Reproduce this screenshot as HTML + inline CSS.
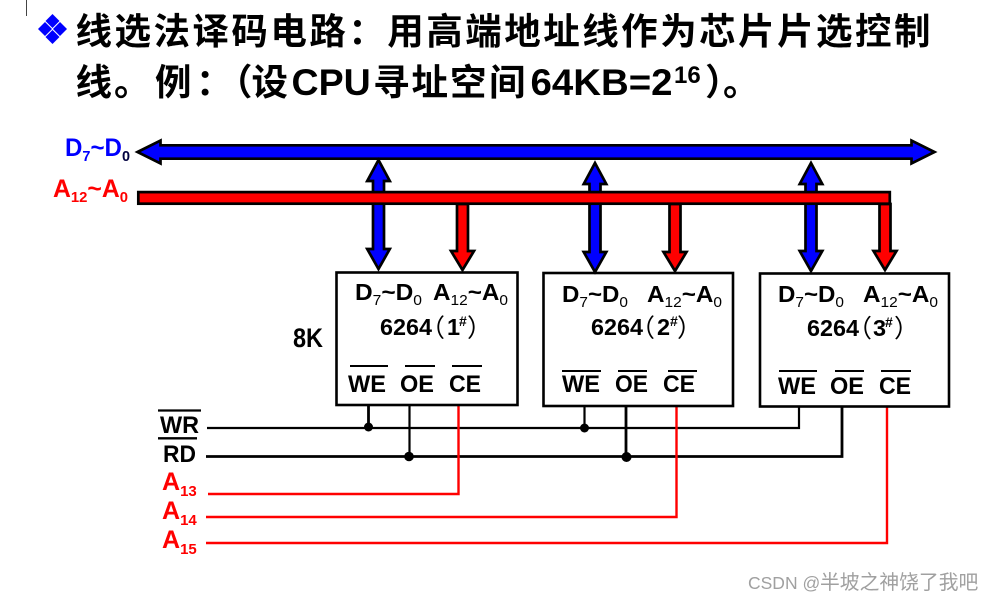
<!DOCTYPE html>
<html><head><meta charset="utf-8">
<style>
html,body{margin:0;padding:0;background:#fff;width:994px;height:601px;overflow:hidden}
svg{display:block}
text{font-family:"Liberation Sans","Noto Sans CJK SC",sans-serif;font-weight:bold;fill:#000}
.t{font-size:36.5px}
.u{font-size:37.5px}
.l{font-size:23.5px}
.sr{font-size:15px;font-weight:normal}
.c{font-family:"Noto Sans CJK SC",sans-serif;font-weight:normal;font-size:25px}
.w{font-size:24px}
.r{fill:#f00}
.b{fill:#00f}
</style></head><body>
<svg width="994" height="601" viewBox="0 0 994 601" xmlns="http://www.w3.org/2000/svg">
<line x1="26.5" y1="0" x2="26.5" y2="16" stroke="#444" stroke-width="1"/>
<g fill="#00f">
<polygon points="45,22 52,29 45,36 38,29"/>
<polygon points="60,22 67,29 60,36 53,29"/>
<polygon points="52.5,14 59.5,21 52.5,28 45.5,21"/>
<polygon points="52.5,30 59.5,37 52.5,44 45.5,37"/>
</g>
<text class="t" x="75.5" y="44" textLength="855">线选法译码电路：用高端地址线作为芯片片选控制</text>
<g>
<text class="t" x="75.5" y="95">线</text>
<text class="t" x="114" y="95">。</text>
<text class="t" x="155" y="95">例</text>
<text class="t" x="196" y="95">：</text>
<text class="t" x="216" y="95">（</text>
<text class="t" x="251.500" y="95">设</text>
<text class="u" x="291.500" y="95">CPU</text>
<text class="t" x="373" y="95">寻</text>
<text class="t" x="411.500" y="95">址</text>
<text class="t" x="450" y="95">空</text>
<text class="t" x="489" y="95">间</text>
<text class="u" x="530.500" y="95" textLength="142" lengthAdjust="spacingAndGlyphs">64KB=2</text>
<text x="674" y="83" font-size="24">16</text>
<text class="t" x="705" y="95">）</text>
<text class="t" x="723" y="95">。</text>
</g>

<!-- control lines -->
<g fill="none" stroke-linejoin="miter">
<path d="M207 428H799V406M409.5 405V428M584.5 407V428" stroke="#000" stroke-width="2.2"/>
<path d="M368.500 406V428" stroke="#000" stroke-width="2.8"/>
<path d="M206 456.500H842V406M626 406V457" stroke="#000" stroke-width="2.8"/>
<path d="M409.5 428V456" stroke="#000" stroke-width="2.2"/>
<path d="M208 494H458.500V405" stroke="#f00" stroke-width="2.4"/>
<path d="M206 517H676.500V406" stroke="#f00" stroke-width="2.4"/>
<path d="M206 543H887V407" stroke="#f00" stroke-width="2.4"/>
</g>
<g fill="#000">
<circle cx="368.500" cy="427" r="4.500"/>
<circle cx="409" cy="456.500" r="4.800"/>
<circle cx="584.500" cy="428" r="4.500"/>
<circle cx="626.500" cy="457" r="5"/>
</g>

<!-- boxes -->
<g fill="#fff" stroke="#000" stroke-width="2.6">
<rect x="336.500" y="272.500" width="181" height="132.500"/>
<rect x="543.500" y="273" width="189.500" height="133"/>
<rect x="760" y="273.500" width="189" height="133"/>
</g>

<!-- arrows -->
<g stroke="#000" stroke-width="2.7" stroke-miterlimit="10" stroke-linejoin="miter">
<polygon fill="#00f" points="137.500,152 160.500,140.500 160.500,145.300 911.500,145.300 911.500,140.500 934.500,152 911.500,163.500 911.500,158.700 160.500,158.700 160.500,163.500"/>
<polygon fill="#00f" points="378.500,160 389.800,181 384,181 384,249 389.800,249 378.500,269 367.200,249 373,249 373,181 367.200,181"/>
<polygon fill="#00f" points="595,163 606.300,184 600.500,184 600.500,252 606.300,252 595,272 583.700,252 589.500,252 589.500,184 583.700,184"/>
<polygon fill="#00f" points="811,163 822.300,184 816.500,184 816.500,251 822.300,251 811,271 799.700,251 805.500,251 805.500,184 799.700,184"/>
<polygon fill="#f00" points="457,204 468,204 468,251 474,251 462.500,270 451,251 457,251"/>
<polygon fill="#f00" points="669.500,204 680.500,204 680.500,252 686.500,252 675,271 663.500,252 669.500,252"/>
<polygon fill="#f00" points="879.500,204 890.500,204 890.500,251 896.500,251 885,270 873.500,251 879.500,251"/>
<rect fill="#f00" x="138.300" y="192.100" width="751.500" height="11.600"/>
</g>

<!-- bus labels -->
<text class="b" x="65" y="156" textLength="65" lengthAdjust="spacingAndGlyphs"><tspan font-size="25">D</tspan><tspan font-size="15" dy="5">7</tspan><tspan dy="-5" font-size="25">~D</tspan><tspan font-size="15" dy="5" style="fill:#000040">0</tspan></text>
<text class="r" x="53" y="197" textLength="75" lengthAdjust="spacingAndGlyphs"><tspan font-size="25">A</tspan><tspan font-size="15" dy="5">12</tspan><tspan dy="-5" font-size="25">~A</tspan><tspan font-size="15" dy="5">0</tspan></text>

<text x="293" y="347" font-size="27" textLength="30" lengthAdjust="spacingAndGlyphs">8K</text>

<!-- chip 1 -->
<text x="355" y="300" textLength="67" lengthAdjust="spacingAndGlyphs"><tspan class="l">D</tspan><tspan class="sr" dy="5">7</tspan><tspan class="l" dy="-5">~D</tspan><tspan class="sr" dy="5">0</tspan></text>
<text x="433" y="300" textLength="75" lengthAdjust="spacingAndGlyphs"><tspan class="l">A</tspan><tspan class="sr" dy="5">12</tspan><tspan class="l" dy="-5">~A</tspan><tspan class="sr" dy="5">0</tspan></text>
<text class="l" x="380" y="335" textLength="52" lengthAdjust="spacingAndGlyphs">6264</text>
<text class="c" x="420" y="336.300">（</text>
<text class="l" x="447" y="335">1</text>
<text x="459" y="326" font-size="14">#</text>
<text class="c" x="467" y="336.300">）</text>
<text class="w" x="348" y="392" textLength="38" lengthAdjust="spacingAndGlyphs">WE</text>
<text class="w" x="400" y="392" textLength="34" lengthAdjust="spacingAndGlyphs">OE</text>
<text class="w" x="449" y="392" textLength="32" lengthAdjust="spacingAndGlyphs">CE</text>
<path d="M350 366H388M405 366H435M452 366H482" stroke="#000" stroke-width="2"/>

<!-- chip 2 -->
<text x="562" y="302" textLength="66" lengthAdjust="spacingAndGlyphs"><tspan class="l">D</tspan><tspan class="sr" dy="5">7</tspan><tspan class="l" dy="-5">~D</tspan><tspan class="sr" dy="5">0</tspan></text>
<text x="647" y="302" textLength="75" lengthAdjust="spacingAndGlyphs"><tspan class="l">A</tspan><tspan class="sr" dy="5">12</tspan><tspan class="l" dy="-5">~A</tspan><tspan class="sr" dy="5">0</tspan></text>
<text class="l" x="591" y="335" textLength="52" lengthAdjust="spacingAndGlyphs">6264</text>
<text class="c" x="630" y="336.300">（</text>
<text class="l" x="657" y="335">2</text>
<text x="670" y="326" font-size="14">#</text>
<text class="c" x="677" y="336.300">）</text>
<text class="w" x="562" y="392" textLength="38" lengthAdjust="spacingAndGlyphs">WE</text>
<text class="w" x="615" y="392" textLength="33" lengthAdjust="spacingAndGlyphs">OE</text>
<text class="w" x="663" y="392" textLength="32" lengthAdjust="spacingAndGlyphs">CE</text>
<path d="M562 371H601M618 371H647M668 371H697" stroke="#000" stroke-width="2"/>

<!-- chip 3 -->
<text x="778" y="302" textLength="66" lengthAdjust="spacingAndGlyphs"><tspan class="l">D</tspan><tspan class="sr" dy="5">7</tspan><tspan class="l" dy="-5">~D</tspan><tspan class="sr" dy="5">0</tspan></text>
<text x="863" y="302" textLength="75" lengthAdjust="spacingAndGlyphs"><tspan class="l">A</tspan><tspan class="sr" dy="5">12</tspan><tspan class="l" dy="-5">~A</tspan><tspan class="sr" dy="5">0</tspan></text>
<text class="l" x="807" y="336" textLength="52" lengthAdjust="spacingAndGlyphs">6264</text>
<text class="c" x="847" y="337">（</text>
<text class="l" x="873" y="336">3</text>
<text x="885" y="327" font-size="14">#</text>
<text class="c" x="894" y="337">）</text>
<text class="w" x="778" y="394" textLength="38" lengthAdjust="spacingAndGlyphs">WE</text>
<text class="w" x="830" y="394" textLength="34" lengthAdjust="spacingAndGlyphs">OE</text>
<text class="w" x="879" y="394" textLength="32" lengthAdjust="spacingAndGlyphs">CE</text>
<path d="M779 371H817M835 371H864M881 371H911" stroke="#000" stroke-width="2"/>

<!-- control labels -->
<text x="160" y="433" font-size="24" textLength="39" lengthAdjust="spacingAndGlyphs">WR</text>
<text x="163" y="462" font-size="24" textLength="33" lengthAdjust="spacingAndGlyphs">RD</text>
<path d="M158 410.500H201M158 438.300H197" stroke="#000" stroke-width="2.300"/>
<text class="r" x="162" y="490"><tspan font-size="25">A</tspan><tspan font-size="15" dy="6">13</tspan></text>
<text class="r" x="162" y="519"><tspan font-size="25">A</tspan><tspan font-size="15" dy="6">14</tspan></text>
<text class="r" x="162" y="548"><tspan font-size="25">A</tspan><tspan font-size="15" dy="6">15</tspan></text>

<g style="font-weight:normal">
<text x="748" y="589" font-size="17.500" style="font-weight:normal;fill:#a0a0a0">CSDN @</text>
<text x="820" y="589" font-size="19.800" style="font-weight:normal;fill:#a0a0a0">半坡之神饶了我吧</text>
</g>
</svg>
</body></html>
